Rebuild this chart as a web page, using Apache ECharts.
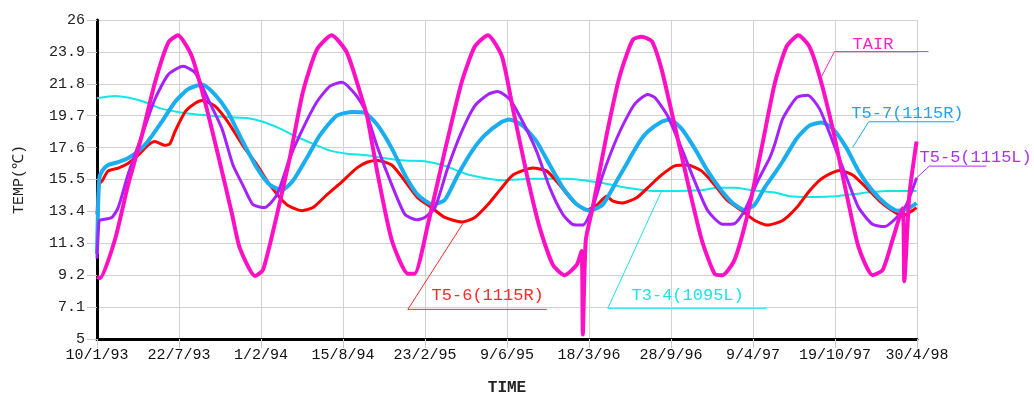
<!DOCTYPE html>
<html><head><meta charset="utf-8">
<script src="https://cdn.jsdelivr.net/npm/echarts@6/dist/echarts.min.js"></script>
<style>html,body{margin:0;padding:0;background:#fff}#c{width:1034px;height:401px}</style>
</head><body><div id="c"></div>
<script>
// x values are days since 10/1/93
const xTickLabels = ['10/1/93','22/7/93','1/2/94','15/8/94','23/2/95','9/6/95','18/3/96','28/9/96','9/4/97','19/10/97','30/4/98'];
const yTickValues = [5, 7.1, 9.2, 11.3, 13.4, 15.5, 17.6, 19.7, 21.8, 23.9, 26];

const tairDays = [0,7,42,73,106,137,168,191,224,255,286,319,337,373,392,425,455,486,519,554,590,628,639,663,696,734,750,781,821,861,892,923,956,982,1015,1045,1076,1104,1133,1144,1147,1154,1170,1203,1234,1265,1286,1310,1333,1364,1394,1428,1458,1477,1505,1536,1569,1600,1628,1656,1682,1706,1737,1770,1798,1831,1855,1878,1902,1906,1918,1935];
const tairTemp = [9.1,9.0,11.5,15.1,18.4,21.9,24.5,25.0,23.6,20.6,17.1,13.2,11.0,9.15,9.55,13.2,16.9,21.25,24.05,25.0,23.85,20.6,19.5,15.8,11.5,9.3,9.3,12.5,17.35,21.9,24.25,25.0,23.6,20.15,15.8,12.35,9.9,9.2,9.9,10.8,5.3,11.5,13.6,18.4,22.3,24.7,24.9,24.6,22.75,19.05,15.4,11.5,9.3,9.2,10.2,13.2,17.55,21.8,24.25,25.0,24.25,22.3,18.85,14.5,11.05,9.2,9.55,11.5,13.6,8.8,14.5,18.0];

const t55Days = [0,5,12,35,50,73,106,137,168,203,231,262,295,321,344,368,396,425,455,486,519,550,578,613,634,663,696,727,755,774,798,828,861,892,923,946,974,1005,1038,1069,1100,1123,1147,1170,1194,1227,1258,1274,1300,1317,1347,1380,1411,1442,1477,1505,1529,1560,1588,1600,1619,1652,1678,1706,1737,1770,1798,1831,1859,1888,1911,1935];
const t55Temp = [10.3,12.8,12.85,13.0,13.65,15.8,18.4,20.8,22.4,22.95,22.55,20.8,18.85,16.45,15.15,13.85,13.65,14.5,16.9,18.85,20.6,21.65,21.9,21.0,20.0,17.55,15.15,13.2,12.85,13.0,13.65,16.25,18.65,20.35,21.1,21.3,20.8,19.3,17.35,14.95,13.2,12.55,12.5,13.65,15.8,18.2,19.95,20.6,21.1,20.9,19.7,17.55,15.4,13.45,12.55,12.6,13.45,15.4,16.9,17.8,19.5,20.9,21.05,20.15,18.0,15.6,13.65,12.55,12.4,13.0,13.85,15.6];

const t57Days = [0,5,12,26,50,73,97,120,153,184,215,248,278,309,344,378,408,437,462,495,526,566,604,632,663,696,727,757,793,821,852,885,915,956,974,1005,1038,1069,1100,1133,1163,1194,1227,1258,1281,1300,1333,1352,1380,1411,1442,1475,1505,1529,1553,1576,1600,1619,1652,1682,1711,1737,1770,1798,1831,1864,1890,1918,1935];
const t57Temp = [10.6,15.5,16.05,16.45,16.65,16.9,17.35,18.0,19.3,20.6,21.45,21.75,21.1,19.95,18.0,16.25,15.15,14.8,15.4,16.9,18.4,19.7,19.95,19.9,19.05,17.55,15.8,14.5,13.85,14.15,15.8,17.35,18.4,19.3,19.45,19.05,18.0,16.45,14.95,13.85,13.45,13.85,15.4,16.9,18.0,18.65,19.3,19.45,18.85,17.55,16.05,14.75,13.85,13.5,13.85,14.95,15.9,16.7,18.2,19.05,19.25,18.85,17.55,16.05,14.75,13.85,13.45,13.65,13.95];

const t56Days = [0,5,12,26,50,73,97,120,137,160,172,184,208,231,248,278,309,344,378,408,448,484,510,543,580,613,639,663,696,727,757,790,821,861,892,923,951,982,1029,1062,1092,1123,1156,1180,1203,1217,1241,1274,1300,1333,1364,1394,1428,1458,1489,1522,1553,1583,1619,1652,1682,1713,1753,1784,1817,1847,1878,1902,1925,1935];
const t56Temp = [13.2,15.2,15.4,16.05,16.25,16.55,17.1,17.75,18.0,17.75,17.85,18.65,19.95,20.5,20.7,20.35,19.3,17.75,16.45,15.15,13.85,13.45,13.65,14.5,15.4,16.25,16.65,16.75,16.45,15.4,14.3,13.65,13.0,12.7,13.0,13.85,14.8,15.8,16.25,16.05,15.15,14.1,13.5,13.8,14.4,14.1,13.95,14.3,14.95,15.8,16.4,16.45,16.05,15.15,14.1,13.45,12.8,12.5,12.8,13.65,14.75,15.6,16.1,15.8,14.95,14.1,13.45,13.1,13.45,13.65];

const t34Days = [0,42,73,113,153,191,231,271,314,354,392,432,472,510,550,590,637,680,727,774,821,868,915,956,1029,1109,1187,1251,1310,1347,1428,1465,1505,1545,1600,1635,1682,1746,1805,1864,1935];
const t34Temp = [20.85,21.0,20.9,20.6,20.15,19.95,19.8,19.7,19.6,19.55,19.3,18.85,18.3,17.85,17.4,17.2,17.1,16.9,16.75,16.7,16.4,15.9,15.6,15.45,15.55,15.55,15.3,14.95,14.75,14.75,14.8,14.95,14.95,14.8,14.65,14.4,14.35,14.4,14.6,14.75,14.75];

const FONT = '"Liberation Mono", "Courier New", monospace';
const zip = (a, b) => a.map((d, i) => [d, b[i]]);

const seriesDefs = [
  { name: 'T3-4(1095L)', data: zip(t34Days, t34Temp), color: '#12e6e6', width: 2 },
  { name: 'T5-6(1115R)', data: zip(t56Days, t56Temp), color: '#ff0000', width: 3 },
  { name: 'T5-7(1115R)', data: zip(t57Days, t57Temp), color: '#1aaef0', width: 4 },
  { name: 'T5-5(1115L)', data: zip(t55Days, t55Temp), color: '#a522ff', width: 3 },
  { name: 'TAIR', data: zip(tairDays, tairTemp), color: '#ff10c4', width: 4 }
];

// annotation callouts, positions in data units (day, temp)
const callouts = [
  { text: 'TAIR', color: '#ff20c8', at: [1784, 24.37], line: [[1711, 22.29], [1741, 23.92], [1963, 23.92]] },
  { text: 'T5-7(1115R)', color: '#22a2ee', at: [1781, 19.82], line: [[1784, 17.61], [1822, 19.30], [2024, 19.30]] },
  { text: 'T5-5(1115L)', color: '#aa30ff', at: [1942, 16.96], line: [[1932, 15.53], [1965, 16.38], [2100, 16.38]] },
  { text: 'T5-6(1115R)', color: '#ff2a2a', at: [790, 7.86], line: [[864, 12.61], [734, 6.95], [1062, 6.95]] },
  { text: 'T3-4(1095L)', color: '#1ce2ea', at: [1262, 7.86], line: [[1333, 14.75], [1206, 7.02], [1581, 7.02]] }
];

const chart = echarts.init(document.getElementById('c'));
const option = {
  animation: false,
  backgroundColor: '#fff',
  grid: { left: 97, right: 117, top: 20, bottom: 58, containLabel: false },
  xAxis: {
    type: 'value', min: 0, max: 1936, interval: 193.6,
    name: 'TIME', nameLocation: 'middle', nameGap: 41,
    nameTextStyle: { fontFamily: FONT, fontSize: 16, fontWeight: 'bold', color: '#222' },
    axisLine: { show: true, onZero: false, lineStyle: { color: '#000', width: 3 } },
    axisTick: { show: true, length: 9, lineStyle: { color: '#c8c8c8', width: 1 } },
    splitLine: { show: true, lineStyle: { color: '#d2d2d2', width: 1 } },
    axisLabel: {
      margin: 9, fontFamily: FONT, fontSize: 15, color: '#111',
      formatter: v => xTickLabels[Math.round(v / 193.6)] || ''
    }
  },
  yAxis: {
    type: 'value', min: yTickValues[0], max: yTickValues[yTickValues.length - 1], interval: 2.1,
    name: 'TEMP(℃)', nameLocation: 'middle', nameGap: 70, nameRotate: 90,
    nameTextStyle: { fontFamily: FONT, fontSize: 15, color: '#222' },
    axisLine: { show: true, lineStyle: { color: '#000', width: 3 } },
    axisTick: { show: true, length: 10, lineStyle: { color: '#c8c8c8', width: 1 } },
    splitLine: { show: true, lineStyle: { color: '#d2d2d2', width: 1 } },
    axisLabel: {
      margin: 12, fontFamily: FONT, fontSize: 15, color: '#222',
      formatter: v => String(+v.toFixed(1))
    }
  },
  series: seriesDefs.map(s => ({
    name: s.name, type: 'line', data: s.data, showSymbol: false, symbol: 'none',
    smooth: 0.2, clip: true,
    lineStyle: { color: s.color, width: s.width }, itemStyle: { color: s.color }
  }))
};
chart.setOption(option);

const toPx = p => chart.convertToPixel({ gridIndex: 0 }, p);
const graphics = [];
callouts.forEach(c => {
  graphics.push({
    type: 'polyline', silent: true, z: 100,
    shape: { points: c.line.map(toPx) },
    style: { stroke: c.color, lineWidth: 1, fill: null }
  });
  const p = toPx(c.at);
  graphics.push({
    type: 'text', silent: true, z: 100, x: p[0], y: p[1],
    style: { text: c.text, fill: c.color, font: '17px ' + FONT, align: 'left', verticalAlign: 'middle' }
  });
});
chart.setOption({ graphic: graphics });
</script>
</body></html>
